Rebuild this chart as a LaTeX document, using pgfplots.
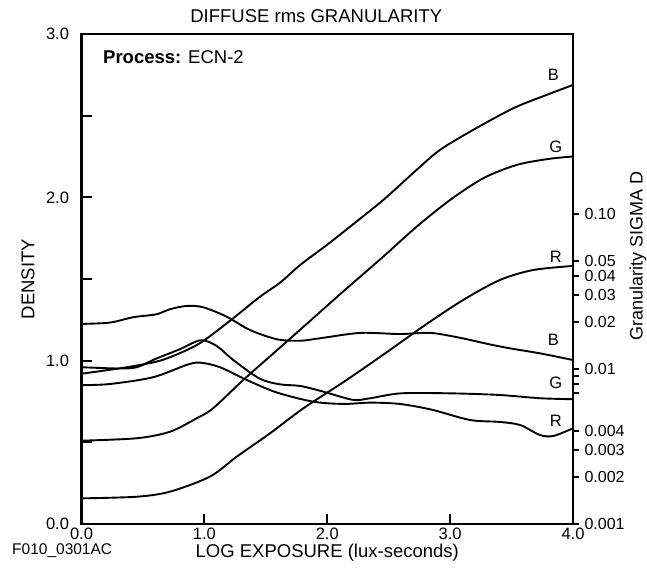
\documentclass[border=0pt]{standalone}
\usepackage{pgfplots}
\pgfplotsset{compat=1.18}
\usetikzlibrary{calc}
\usepackage{fontspec}
\setmainfont{Liberation Sans}
\begin{document}
\begin{tikzpicture}[x=1pt,y=1pt]
\newcommand{\fs}{\fontsize{18.5}{20}\selectfont}
\newcommand{\ft}{\fontsize{16.5}{18}\selectfont}
\begin{axis}[name=ax, scale only axis, width=491.5pt, height=490pt,
  xmin=0, xmax=4, ymin=0, ymax=3,
  axis line style={line width=2.4pt}, clip=false,
  xtick={0,1,2,3,4}, xticklabels={0.0,1.0,2.0,3.0,4.0},
  ytick={0,0.5,1,1.5,2,2.5,3}, yticklabels={0.0,,1.0,,2.0,,3.0},
  xtick pos=bottom, ytick pos=left, tick align=inside,
  major tick length=10pt, tick style={line width=2.2pt, black},
  ticklabel style={font=\ft},
  xticklabel style={yshift=-0.5pt},
  yticklabel style={xshift=-9pt},
  every axis plot post/.append style={black, solid, line width=1.9pt, smooth, tension=0.5, mark=none}]
% B density
\addplot coordinates {(0,0.92)(0.37,0.96)(0.64,1.0)(0.86,1.066)(1.0,1.125)(1.235,1.26)(1.45,1.39)(1.62,1.48)(1.78,1.586)(2.0,1.71)(2.185,1.82)(2.456,1.984)(2.727,2.168)(2.917,2.29)(3.188,2.413)(3.513,2.545)(3.785,2.627)(4.0,2.688)};
% G density
\addplot coordinates {(0,0.51)(0.45,0.525)(0.72,0.565)(0.937,0.647)(1.07,0.708)(1.317,0.882)(1.6,1.07)(1.9,1.27)(2.144,1.433)(2.456,1.637)(2.727,1.82)(3.0,1.984)(3.27,2.117)(3.54,2.198)(3.8,2.235)(4.0,2.25)};
% R density
\addplot coordinates {(0,0.157)(0.45,0.167)(0.72,0.198)(1.045,0.29)(1.263,0.412)(1.534,0.555)(1.805,0.708)(2.158,0.882)(2.5,1.06)(2.8,1.22)(3.107,1.372)(3.405,1.494)(3.676,1.555)(4.0,1.58)};
% B granularity
\addplot coordinates {(0,1.225)(0.23,1.233)(0.42,1.266)(0.61,1.284)(0.72,1.315)(0.856,1.335)(0.99,1.327)(1.18,1.27)(1.37,1.188)(1.59,1.131)(1.78,1.122)(1.94,1.137)(2.27,1.17)(2.59,1.163)(2.84,1.17)(3.08,1.14)(3.32,1.10)(3.49,1.075)(3.73,1.045)(4.0,1.004)};
% G granularity
\addplot coordinates {(0,0.96)(0.3,0.952)(0.45,0.96)(0.6,1.01)(0.8,1.07)(0.97,1.125)(1.1,1.09)(1.235,1.004)(1.45,0.89)(1.615,0.855)(1.78,0.845)(1.97,0.81)(2.21,0.76)(2.35,0.77)(2.6,0.8)(3.0,0.80)(3.4,0.79)(3.73,0.77)(4.0,0.764)};
% R granularity
\addplot coordinates {(0,0.85)(0.23,0.857)(0.58,0.898)(0.856,0.974)(0.964,0.988)(1.127,0.96)(1.344,0.882)(1.59,0.805)(1.886,0.749)(2.13,0.735)(2.35,0.743)(2.59,0.735)(2.85,0.70)(3.16,0.637)(3.4,0.625)(3.57,0.606)(3.73,0.545)(3.84,0.539)(4.0,0.586)};
\node[font=\ft] at (axis cs:3.84,2.75) {B};
\node[font=\ft] at (axis cs:3.86,2.31) {G};
\node[font=\ft] at (axis cs:3.86,1.635) {R};
\node[font=\ft] at (axis cs:3.84,1.127) {B};
\node[font=\ft] at (axis cs:3.86,0.863) {G};
\node[font=\ft] at (axis cs:3.86,0.631) {R};
\end{axis}
\begin{axis}[scale only axis, width=491.5pt, height=490pt,
  xmin=0, xmax=4, ymode=log, ymin=0.001, ymax=1.449,
  axis y line*=right, hide x axis,
  axis line style={line width=2.4pt},
  ytick={0.001,0.002,0.003,0.004,0.007,0.008,0.009,0.01,0.02,0.03,0.04,0.05,0.1},
  yticklabels={0.001,0.002,0.003,0.004,,,,0.01,0.02,0.03,0.04,0.05,0.10},
  minor ytick={}, tick align=outside, major tick length=6pt,
  tick style={line width=2pt, black},
  yticklabel style={font=\fontsize{16}{18}\selectfont, xshift=2pt}]
\end{axis}
\node[font=\fs, anchor=base west, inner sep=0pt] at ($(ax.south west)+(21.5,460)$) {\textbf{Process:} ECN-2};
\node[font=\fs, anchor=base, inner sep=0pt] at ($(ax.north)+(-11,11.5)$) {DIFFUSE rms GRANULARITY};
\node[font=\fs, rotate=90] at ($(ax.west)+(-53.5,0)$) {DENSITY};
\node[font=\fontsize{18}{20}\selectfont, rotate=90] at ($(ax.south east)+(65,268)$) {Granularity SIGMA D};
\node[font=\fs, anchor=base, inner sep=0pt] at ($(ax.south)+(0,-33)$) {LOG EXPOSURE (lux-seconds)};
\node[font=\fontsize{15.5}{17}\selectfont, anchor=base west, inner sep=0pt] at ($(ax.south west)+(-69.5,-30.5)$) {F010\_0301AC};
\pgfresetboundingbox
\path[use as bounding box] (ax.south west) ++(-81.5pt,-51pt) rectangle ++(647pt,575pt);
\end{tikzpicture}
\end{document}
